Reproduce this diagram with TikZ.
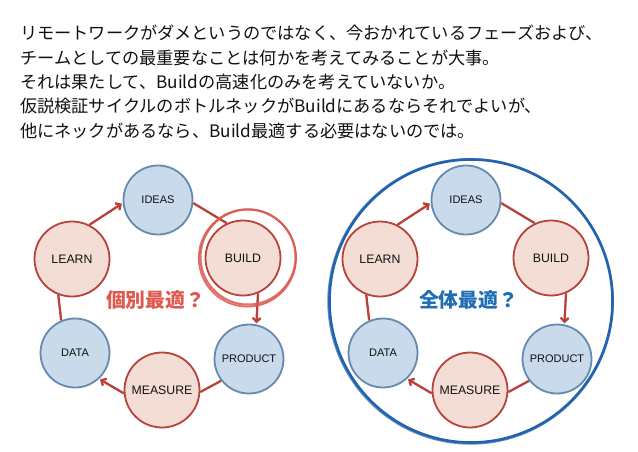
\documentclass[tikz,border=0pt]{standalone}
\usepackage{fontspec}
\usetikzlibrary{arrows.meta}
\newfontfamily\cjk{Noto Sans CJK JP}
\newfontfamily\lab{Liberation Sans}
\definecolor{redline}{HTML}{B5443B}
\definecolor{redfill}{HTML}{F4DDD4}
\definecolor{blueline}{HTML}{6689B0}
\definecolor{bluefill}{HTML}{C9DBEB}
\definecolor{connred}{HTML}{B8413A}
\definecolor{ringred}{HTML}{DC5850}
\definecolor{ringblue}{HTML}{2363AE}
\definecolor{qred}{HTML}{DE5A50}
\definecolor{qblue}{HTML}{1F6EB5}
\definecolor{txt}{HTML}{111111}
\tikzset{
  rednode/.style={circle, draw=redline, fill=redfill, line width=1.8pt, minimum size=75pt, inner sep=0pt, text=txt, font=\lab\fontsize{12.3}{13}\selectfont},
  bluenode/.style={circle, draw=blueline, fill=bluefill, line width=1.8pt, minimum size=69pt, inner sep=0pt, text=txt, font=\lab\fontsize{11}{12}\selectfont},
  conn/.style={draw=connred, line width=2.3pt},
  connarrow/.style={conn, -{Straight Barb[length=4pt,width=8pt]}, shorten >=1pt},
  headline/.style={anchor=base west, inner sep=0pt, text=txt, font=\cjk\fontsize{17.2}{20}\selectfont},
  question/.style={inner sep=0pt, font=\cjk\bfseries\fontsize{19.8}{22}\selectfont}
}
\newcommand\drawcycle[2]{%
  \node[bluenode] (#1ideas)   at ({#2+158},200) {IDEAS};
  \node[rednode]  (#1build)   at ({#2+243},258) {BUILD};
  \node[bluenode] (#1product) at ({#2+249},359) {PRODUCT};
  \node[rednode]  (#1measure) at ({#2+162},390) {MEASURE};
  \node[bluenode] (#1data)    at ({#2+75},353)  {DATA};
  \node[rednode]  (#1learn)   at ({#2+72},259)  {LEARN};
  \draw[connarrow] (#1learn.63) -- (#1ideas.185);
  \draw[conn] (#1ideas.-5) -- (#1build.115);
  \draw[connarrow] (#1build.-67) -- (#1product.78);
  \draw[conn] (#1product.218) -- (#1measure.-3);
  \draw[connarrow] (#1measure.185) -- (#1data.-47);
  \draw[conn] (#1data.113) -- (#1learn.249);
}
\begin{document}
\begin{tikzpicture}[x=1pt,y=-1pt]
\path[use as bounding box, fill=white] (0,0) rectangle (638,451);
\node[headline] (l1) at (20,39.8) {リモートワークがダメというのではなく、今おかれているフェーズおよび、};
\node[headline] (l2) at (20,64.1) {チームとしての最重要なことは何かを考えてみることが大事。};
\node[headline] (l3) at (20,88.4) {それは果たして、Buildの高速化のみを考えていないか。};
\node[headline] (l4) at (20,112.7) {仮説検証サイクルのボトルネックがBuildにあるならそれでよいが、};
\node[headline] (l5) at (20,137.0) {他にネックがあるなら、Build最適する必要はないのでは。};
\drawcycle{a}{0}
\drawcycle{b}{308}
\node[question, text=qred] (qa) at (155.5,300) {個別最適？};
\node[question, text=qblue] (qb) at (468.5,300) {全体最適？};
% hand-drawn ring around BUILD
\draw[ringred, line width=2.2pt, opacity=0.85] (248,257) circle[radius=47.6];
\draw[ringred, line width=1.8pt, opacity=0.85] (247.4,258) circle[radius=48.6];
% big blue ring
\draw[ringblue, line width=2.6pt] (471,301) circle[radius=141.5];
\draw[ringblue, line width=1.4pt, opacity=0.7] (470.6,301.4) circle[radius=142.6];
\end{tikzpicture}
\end{document}
